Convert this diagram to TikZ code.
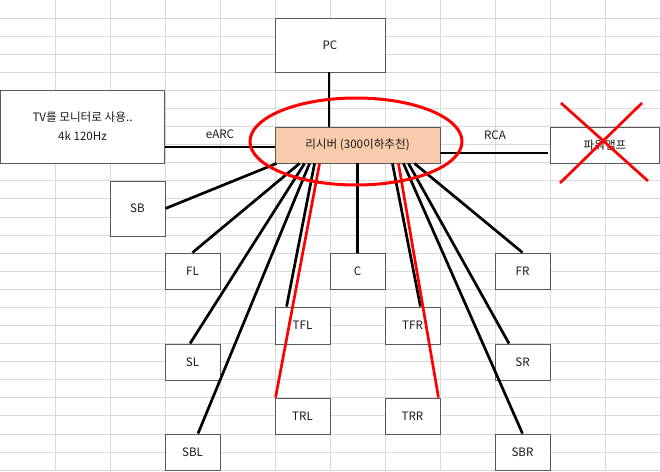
\documentclass[tikz,border=0pt]{standalone}
\usepackage{fontspec}
\setmainfont{Noto Sans CJK KR}
\usetikzlibrary{shapes.geometric}
\definecolor{gridc}{HTML}{D9D9D9}
\definecolor{boxline}{HTML}{595959}
\definecolor{peach}{HTML}{F8CBAD}
\definecolor{txt}{HTML}{1A1A1A}
\definecolor{xred}{HTML}{FF0000}
\tikzset{
  box/.style={draw=boxline, fill=white, line width=0.9pt, inner sep=0pt, text=txt,
    font=\fontsize{11.6}{19}\selectfont, align=center},
  spk/.style={box, minimum width=55pt, minimum height=36pt},
  conn/.style={line width=2.7pt, black},
  redconn/.style={line width=2.7pt, xred},
  lbl/.style={text=txt, font=\fontsize{11.6}{13}\selectfont, inner sep=0pt}
}
\begin{document}
\begin{tikzpicture}[x=1pt,y=-1pt]
\useasboundingbox (0,0) rectangle (660,471);
\fill[white] (0,0) rectangle (660,471);
% spreadsheet grid
\foreach \i in {1,...,11} \draw[gridc, line width=0.8pt] (55*\i,0) -- (55*\i,471);
\foreach \j in {1,...,26} \draw[gridc, line width=0.8pt] (0,18.08*\j) -- (660,18.08*\j);

% boxes
\node[box, minimum width=110pt, minimum height=54pt] (pc) at (330,45) {PC};
\node[box, minimum width=164pt, minimum height=73pt] (tv) at (82.5,126.5) {TV를 모니터로 사용..\\4k 120Hz};
\node[box, fill=peach, minimum width=165pt, minimum height=36pt] (rcv) at (357.5,145) {리시버 (300이하추천)};
\node[box, minimum width=109pt, minimum height=36pt] (amp) at (605,145) {파워앰프};
\node[box, minimum width=55pt, minimum height=55pt] (sb) at (137.5,208.5) {SB};
\node[spk] (fl) at (192.5,271) {FL};
\node[spk] (sl) at (192.5,362) {SL};
\node[spk] (sbl) at (192.5,452) {SBL};
\node[spk, minimum height=37pt] (tfl) at (302.5,325.5) {TFL};
\node[spk] (trl) at (302.5,416) {TRL};
\node[spk] (c) at (357.5,271) {C};
\node[spk, minimum height=37pt] (tfr) at (412.5,325.5) {TFR};
\node[spk] (trr) at (412.5,416) {TRR};
\node[spk] (fr) at (522.5,271) {FR};
\node[spk] (sr) at (522.5,362) {SR};
\node[spk] (sbr) at (522.5,452) {SBR};

% labels
\node[lbl] (earc) at (220,134) {eARC};
\node[lbl] (rca) at (495,135) {RCA};

% connectors
\draw[conn] ([xshift=-1pt]pc.south) -- ([xshift=-28.5pt]rcv.north);
\coordinate (tvout) at (165,147);
\coordinate (rcvin) at (275,147);
\draw[conn] (tvout) -- (rcvin);
\coordinate (rcvout) at (440,153);
\coordinate (ampin) at (548,153);
\draw[conn] (rcvout) -- (ampin);

\draw[conn] ([xshift=2pt]rcv.south west) -- (sb.east);
\draw[conn] ([xshift=25pt]rcv.south west) -- (fl.north);
\draw[conn] ([xshift=30pt]rcv.south west) -- ([xshift=-2.5pt]sl.north);
\draw[conn] ([xshift=35pt]rcv.south west) -- ([xshift=5.5pt]sbl.north);
\draw[conn] ([xshift=40pt]rcv.south west) -- ([xshift=12pt]tfl.north west);
\draw[conn] (rcv.south) -- (c.north);
\draw[conn] ([xshift=-48pt]rcv.south east) -- ([xshift=-20pt]tfr.north east);
\draw[conn] ([xshift=-37pt]rcv.south east) -- (sbr.north);
\draw[conn] ([xshift=-32pt]rcv.south east) -- ([xshift=-13.5pt]sr.north);
\draw[conn] ([xshift=-26pt]rcv.south east) -- (fr.north);
\draw[redconn] ([xshift=45pt]rcv.south west) -- ([xshift=1pt]trl.north west);
\draw[redconn] ([xshift=-42pt]rcv.south east) -- ([xshift=-2pt]trr.north east);

% red oval around receiver
\node[draw=xred, ellipse, line width=3pt, minimum width=212pt, minimum height=87pt, inner sep=0pt] (oval) at (356,141.5) {};

% red cross over power amp
\coordinate (xa) at (561,103);
\coordinate (xb) at (648,181);
\coordinate (xc) at (642,103);
\coordinate (xd) at (560,183);
\draw[redconn] (xa) -- (xb);
\draw[redconn] (xc) -- (xd);
\end{tikzpicture}
\end{document}
